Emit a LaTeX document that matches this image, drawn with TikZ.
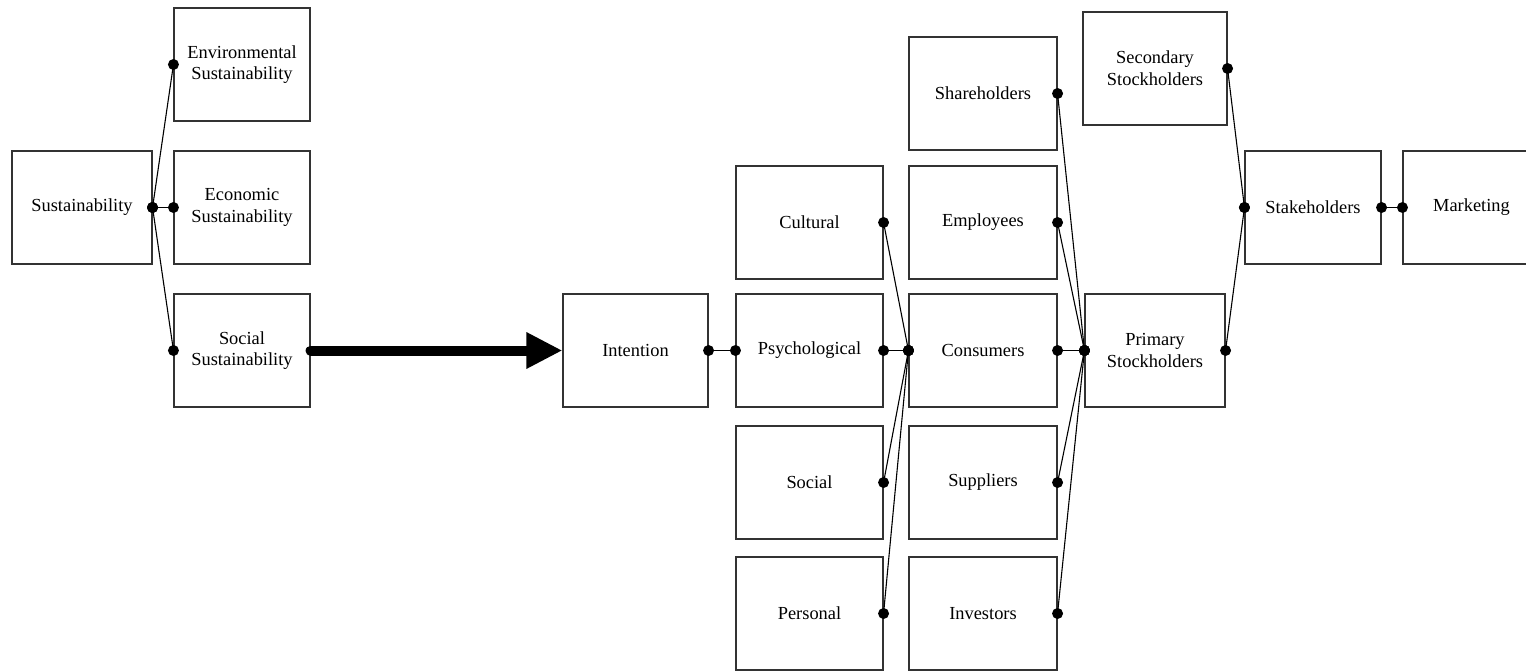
\documentclass[tikz,border=0pt]{standalone}
\usepackage{fontspec}
\setmainfont{Liberation Serif}
\usetikzlibrary{arrows.meta}
\tikzset{
  box/.style={draw=black!80, line width=1.1pt, rectangle, inner sep=0pt, align=center,
    font=\fontsize{18.4}{21.7}\selectfont},
  link/.style={draw=black, line width=1.1pt},
  bigarrow/.style={line width=10pt, line cap=round, -{Triangle[length=36pt,width=34pt]}},
}
\newcommand{\bx}[6]{% name, cx, cy, w, h, text
  \node[box, minimum width=#4pt, minimum height=#5pt] (#1) at (#2,#3) {#6};}
\newcommand{\conn}[2]{%
  \draw[link] (#1) -- (#2);
  \fill (#1) circle (5.5pt);
  \fill (#2) circle (5.5pt);}
\begin{document}
\begin{tikzpicture}[x=1pt,y=-1pt]
\useasboundingbox (0,0) rectangle (1526,671);
\bx{sus}{82}{207.5}{140}{113}{Sustainability}
\bx{env}{242}{64.5}{136}{113}{Environmental\\Sustainability}
\bx{eco}{242}{207.5}{136}{113}{Economic\\Sustainability}
\bx{soc}{242}{350.5}{136}{113}{Social\\Sustainability}
\bx{int}{635.5}{350.5}{145}{113}{Intention}
\bx{cul}{809.5}{222.5}{147}{113}{Cultural}
\bx{psy}{809.5}{350.5}{147}{113}{Psychological}
\bx{scl}{809.5}{482.5}{147}{113}{Social}
\bx{per}{809.5}{613.5}{147}{113}{Personal}
\bx{sha}{983}{93.5}{148}{113}{Shareholders}
\bx{emp}{983}{222.5}{148}{113}{Employees}
\bx{con}{983}{350.5}{148}{113}{Consumers}
\bx{sup}{983}{482.5}{148}{113}{Suppliers}
\bx{inv}{983}{613.5}{148}{113}{Investors}
\bx{sec}{1155}{68.5}{144}{113}{Secondary\\Stockholders}
\bx{pri}{1155}{350.5}{140}{113}{Primary\\Stockholders}
\bx{stk}{1313}{207.5}{136}{113}{Stakeholders}
\bx{mkt}{1471.5}{207.5}{137}{113}{Marketing}
\conn{sus.east}{env.west}
\conn{sus.east}{eco.west}
\conn{sus.east}{soc.west}
\draw[bigarrow] (soc.east) -- (int.west);
\conn{int.east}{psy.west}
\conn{cul.east}{con.west}
\conn{psy.east}{con.west}
\conn{scl.east}{con.west}
\conn{per.east}{con.west}
\conn{sha.east}{pri.west}
\conn{emp.east}{pri.west}
\conn{con.east}{pri.west}
\conn{sup.east}{pri.west}
\conn{inv.east}{pri.west}
\conn{sec.east}{stk.west}
\conn{pri.east}{stk.west}
\conn{stk.east}{mkt.west}
\end{tikzpicture}
\end{document}
